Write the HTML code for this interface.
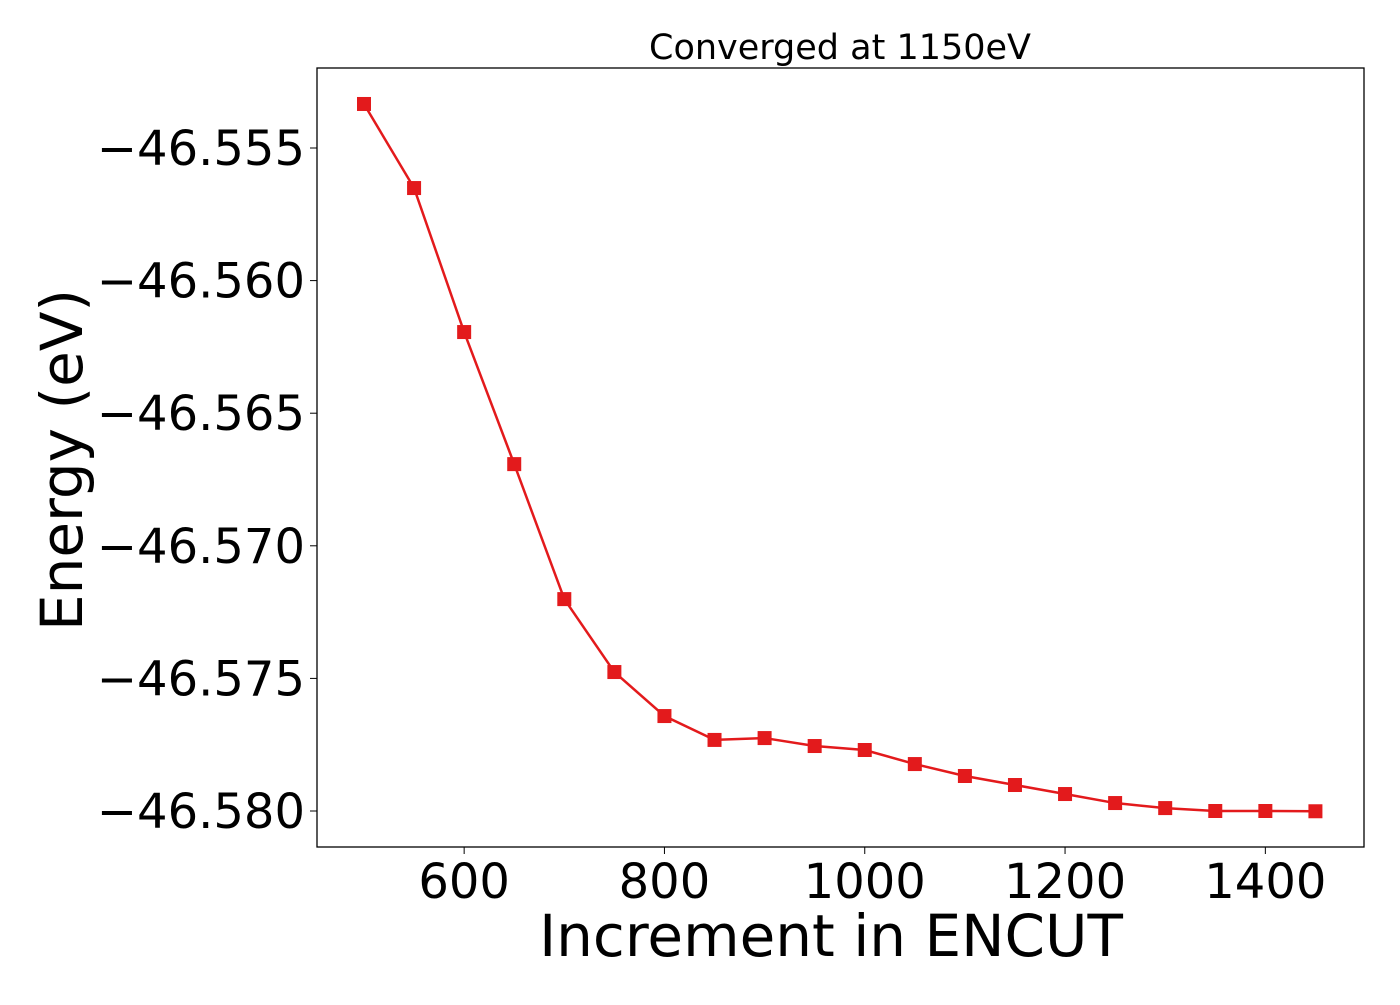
<!DOCTYPE html>
<html><head><meta charset="utf-8"><style>
html,body{margin:0;padding:0;background:#fff;}
svg text{font-family:"DejaVu Sans","Liberation Sans",sans-serif;fill:#000;}
</style></head><body>
<svg id="chart" width="1400" height="1000" xmlns="http://www.w3.org/2000/svg">
<rect x="0" y="0" width="1400" height="1000" fill="#fff"/>
<text x="840" y="59" font-size="35" text-anchor="middle">Converged at 1150eV</text>
<g id="marks"></g>
<rect x="317" y="68" width="1047" height="779" fill="none" stroke="#000" stroke-width="1.3"/>
<g id="xticks"></g><g id="yticks"></g>
<text x="831" y="956" font-size="58" text-anchor="middle">Increment in ENCUT</text>
<text transform="translate(82,460) rotate(-90)" font-size="58" text-anchor="middle">Energy (eV)</text>
</svg>
<script>
const encut=[500,550,600,650,700,750,800,850,900,950,1000,1050,1100,1150,1200,1250,1300,1350,1400,1450];
const energy=[-46.55334,-46.55651,-46.56194,-46.56692,-46.57201,-46.57476,-46.57642,-46.57732,-46.57725,-46.57755,-46.57770,-46.57823,-46.57868,-46.57902,-46.57936,-46.57970,-46.57989,-46.58000,-46.58000,-46.58001];
const xTickVals=[600,800,1000,1200,1400];
const yTickVals=[-46.555,-46.560,-46.565,-46.570,-46.575,-46.580];
const yTickLabels=["\u221246.555","\u221246.560","\u221246.565","\u221246.570","\u221246.575","\u221246.580"];
const NS="http://www.w3.org/2000/svg";
function xs(v){return 364+(v-500)*1.0015;}
function ys(v){return 148+(-46.555-v)/0.005*132.6;}
const marks=document.getElementById('marks');
const line=document.createElementNS(NS,'polyline');


line.setAttribute('points',encut.map((x,i)=>xs(x)+','+ys(energy[i])).join(' '));
line.setAttribute('fill','none');line.setAttribute('stroke','#e31a1c');line.setAttribute('stroke-width','2.5');
marks.appendChild(line);
encut.forEach((x,i)=>{
 const r=document.createElementNS(NS,'rect');
 
 
 r.setAttribute('x',xs(x)-7);r.setAttribute('y',ys(energy[i])-7);
 r.setAttribute('width',14);r.setAttribute('height',14);r.setAttribute('fill','#e31a1c');
 marks.appendChild(r);
});
const xt=document.getElementById('xticks');
xTickVals.forEach(v=>{
 const l=document.createElementNS(NS,'line');
 
 
 l.setAttribute('x1',xs(v));l.setAttribute('x2',xs(v));l.setAttribute('y1',847);l.setAttribute('y2',854);l.setAttribute('stroke','#000');
 xt.appendChild(l);
 const t=document.createElementNS(NS,'text');
 
 
 t.setAttribute('x',xs(v));t.setAttribute('y',898);t.setAttribute('font-size','48');t.setAttribute('text-anchor','middle');
 t.textContent=v;xt.appendChild(t);
});
const yt=document.getElementById('yticks');
yTickVals.forEach((v,i)=>{
 const l=document.createElementNS(NS,'line');
 
 
 l.setAttribute('x1',310);l.setAttribute('x2',317);l.setAttribute('y1',ys(v));l.setAttribute('y2',ys(v));l.setAttribute('stroke','#000');
 yt.appendChild(l);
 const t=document.createElementNS(NS,'text');
 
 
 t.setAttribute('x',305);t.setAttribute('y',ys(v)+17);t.setAttribute('font-size','48');t.setAttribute('text-anchor','end');
 t.textContent=yTickLabels[i];yt.appendChild(t);
});
</script>
</body></html>
